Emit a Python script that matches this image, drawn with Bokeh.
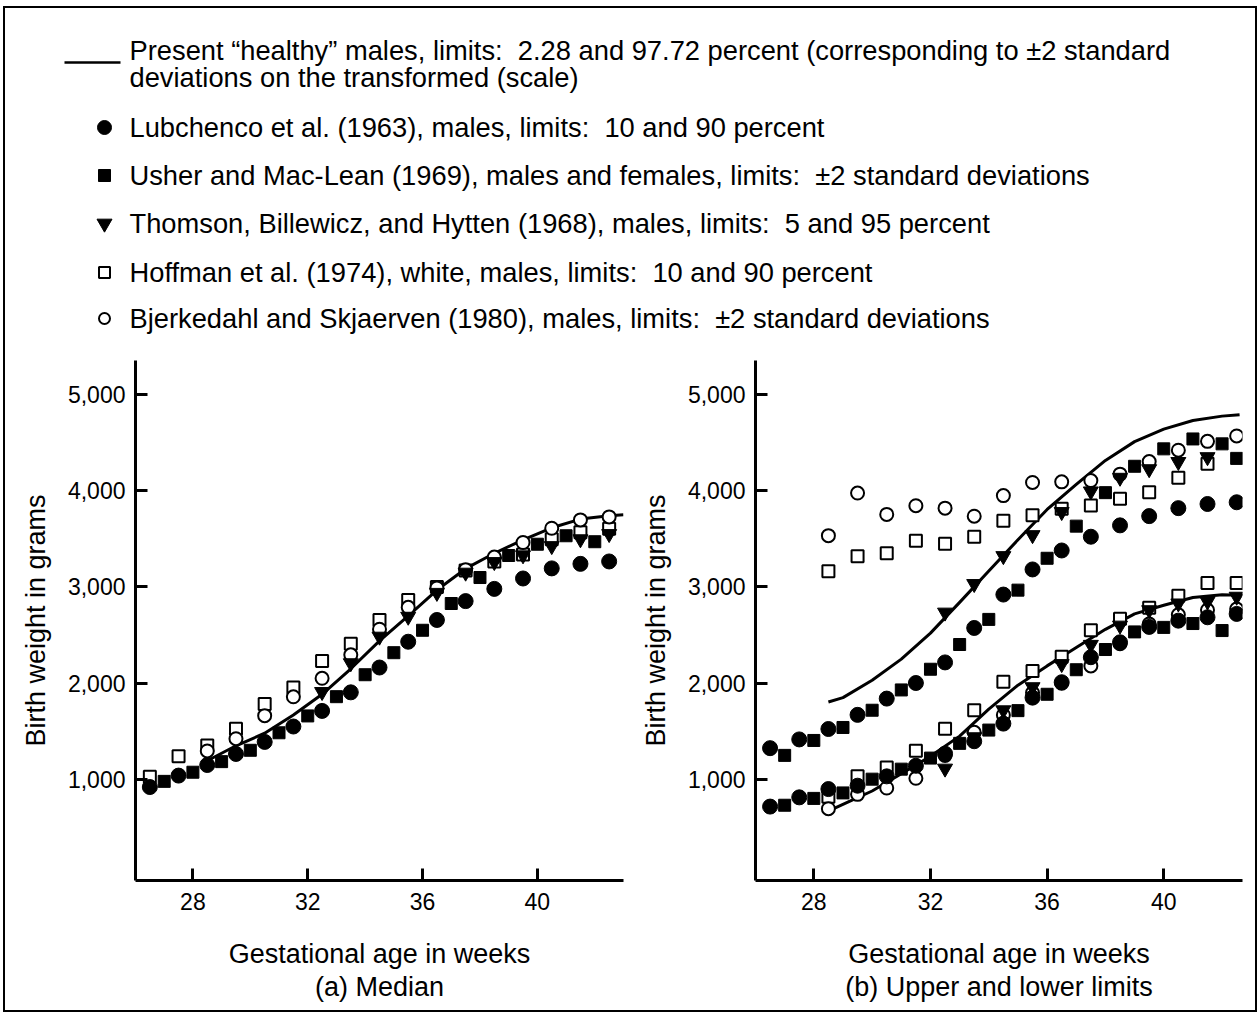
from bokeh.plotting import figure
from bokeh.layouts import column, row
from bokeh.models import Range1d, FixedTicker, NumeralTickFormatter, Title
from bokeh.embed import file_html
from bokeh.resources import INLINE
from bokeh.core.properties import value

FONT = "Liberation Sans"

# ---------------- data: panel (a) medians ----------------
weeks_half = [26.5, 27.5, 28.5, 29.5, 30.5, 31.5, 32.5, 33.5, 34.5, 35.5,
              36.5, 37.5, 38.5, 39.5, 40.5, 41.5, 42.5]
weeks_int = [27, 28, 29, 30, 31, 32, 33, 34, 35, 36, 37, 38, 39, 40, 41, 42]
weeks_b = [28.5, 29.5, 30.5, 31.5, 32.5, 33.5, 34.5, 35.5, 36.5, 37.5,
           38.5, 39.5, 40.5, 41.5, 42.5]
weeks_t = [32.5, 33.5, 34.5, 35.5, 36.5, 37.5, 38.5, 39.5, 40.5, 41.5, 42.5]

lub_med = [921, 1040, 1150, 1265, 1390, 1550, 1712, 1905, 2163, 2431, 2657,
           2853, 2980, 3088, 3193, 3240, 3265]
ush_med = [980, 1075, 1185, 1303, 1485, 1660, 1860, 2088, 2317, 2550, 2828,
           3098, 3327, 3444, 3532, 3470]
hof_med = [1027, 1240, 1354, 1526, 1784, 1955, 2230, 2409, 2657, 2864, 3000,
           3170, 3265, 3336, 3497, 3569, 3605]
bje_med = [1296, 1423, 1663, 1859, 2051, 2295, 2561, 2788, 2990, 3180, 3310,
           3462, 3610, 3697, 3728]
tho_med = [1910, 2209, 2485, 2692, 2940, 3150, 3260, 3330, 3426, 3497, 3551]

healthy_med_weeks = [28.6, 29.5, 30.5, 31.5, 32.5, 33.5, 34.5, 35.5, 36.5,
                     37.5, 38.5, 39.5, 40.5, 41.5, 42.5, 43.0]
healthy_med = [1210, 1350, 1480, 1670, 1885, 2150, 2440, 2700, 2968, 3190,
               3350, 3490, 3615, 3705, 3740, 3750]

# ---------------- data: panel (b) upper / lower limits ----------------
lub_up = [1325, 1416, 1524, 1671, 1840, 2002, 2216, 2574, 2921, 3182, 3379,
          3522, 3640, 3736, 3819, 3862, 3880]
lub_lo = [718, 814, 900, 935, 1032, 1142, 1268, 1397, 1580, 1850, 2010, 2270,
          2425, 2585, 2650, 2685, 2720]
ush_up_weeks = [27, 28, 29, 30, 31, 32, 33, 34, 35, 36, 37, 38, 39, 40, 41, 42, 42.5]
ush_up = [1250, 1405, 1540, 1719, 1930, 2145, 2402, 2663, 2967, 3298, 3632,
          3980, 4254, 4435, 4538, 4487, 4336]
ush_lo = [732, 803, 860, 1003, 1107, 1222, 1375, 1513, 1715, 1885, 2140, 2350,
          2533, 2580, 2620, 2547]
hof_up_weeks = [28.5, 29.5, 30.5, 31.5, 32.5, 33.5, 34.5, 35.5, 36.5, 37.5,
                38.5, 39.5, 40.5, 41.5]
hof_up = [3164, 3318, 3350, 3479, 3450, 3522, 3689, 3744, 3812, 3846, 3917,
          3983, 4136, 4280]
hof_lo = [821, 1032, 1125, 1298, 1528, 1720, 2016, 2127, 2274, 2550, 2669,
          2785, 2909, 3040, 3040]
bje_up = [3533, 3976, 3754, 3844, 3819, 3735, 3949, 4086, 4092, 4105, 4172,
          4303, 4421, 4513, 4569]
bje_lo = [696, 845, 911, 1012, 1250, 1490, 1670, 1900, 2000, 2180, 2410, 2615,
          2710, 2760, 2770]
tho_up_weeks = [32.5, 33.5, 34.5, 35.5, 36.5, 37.5, 38.5, 39.5, 40.5, 41.5]
tho_up = [2735, 3032, 3322, 3540, 3780, 3994, 4136, 4225, 4300, 4350]
tho_lo = [1114, 1440, 1720, 1960, 2200, 2400, 2600, 2760, 2830, 2850, 2900]

up_curve_weeks = [28.5, 29, 30, 31, 32, 33, 34, 35, 36, 37, 38, 39, 40, 41, 42, 42.6]
up_curve = [1805, 1850, 2030, 2250, 2520, 2840, 3165, 3490, 3805, 4065, 4315,
            4510, 4640, 4730, 4775, 4790]
lo_curve_weeks = [28.7, 29.5, 30, 31, 32, 33, 34, 35, 36, 37, 38, 39, 40, 41, 42, 42.6]
lo_curve = [700, 810, 880, 1060, 1240, 1450, 1730, 1980, 2180, 2370, 2560,
            2720, 2810, 2890, 2920, 2915]

x_ticks = [28, 32, 36, 40]
y_ticks = [1000, 2000, 3000, 4000, 5000]

NB = "\u00a0"
legend_labels = [
    "Present \u201chealthy\u201d males, limits:" + NB + " 2.28 and 97.72 percent (corresponding to \u00b12 standard",
    "deviations on the transformed (scale)",
    "Lubchenco et al. (1963), males, limits:" + NB + " 10 and 90 percent",
    "Usher and Mac-Lean (1969), males and females, limits:" + NB + " \u00b12 standard deviations",
    "Thomson, Billewicz, and Hytten (1968), males, limits:" + NB + " 5 and 95 percent",
    "Hoffman et al. (1974), white, males, limits:" + NB + " 10 and 90 percent",
    "Bjerkedahl and Skjaerven (1980), males, limits:" + NB + " \u00b12 standard deviations",
]

# ---------------- legend block ----------------
LW, LH = 1250, 342
leg = figure(width=LW, height=LH, x_range=Range1d(0, LW), y_range=Range1d(LH, 0),
             toolbar_location=None, output_backend="svg", min_border=0)
leg.axis.visible = False
leg.grid.visible = False
leg.outline_line_color = None
text_y = [42, 69, 119, 167, 215, 264, 310]
leg.text(x=[124] * len(legend_labels), y=text_y, text=legend_labels,
         text_font=value(FONT), text_font_size="27.3px", text_baseline="middle",
         text_color="black")
leg.line(x=[59, 115], y=[54, 54], line_width=2.5, color="black")
leg.scatter(x=[99], y=[119], marker="circle", size=14, color="black")
leg.scatter(x=[99], y=[167], marker="square", size=12, color="black")
leg.scatter(x=[99], y=[215], marker="inverted_triangle", size=15, color="black")
leg.scatter(x=[99], y=[264], marker="square", size=11, fill_color="white",
            line_color="black", line_width=2)
leg.scatter(x=[99], y=[310], marker="circle", size=11, fill_color="white",
            line_color="black", line_width=2)


def make_panel(width, left, frame_w, x_end, subtitle):
    p = figure(width=width, height=660, x_range=Range1d(26, x_end),
               y_range=Range1d(-50, 5353), toolbar_location=None,
               output_backend="svg", min_border_left=left,
               min_border_right=width - left - frame_w,
               min_border_top=10, min_border_bottom=130)
    p.grid.visible = False
    p.outline_line_color = None
    p.xaxis.ticker = FixedTicker(ticks=x_ticks)
    p.yaxis.ticker = FixedTicker(ticks=y_ticks)
    p.yaxis.formatter = NumeralTickFormatter(format="0,0")
    for ax in (p.xaxis[0], p.yaxis[0]):
        ax.axis_line_width = 3
        ax.major_tick_line_width = 3
        ax.major_tick_in = 12
        ax.major_tick_out = 0
        ax.minor_tick_line_color = None
        ax.major_label_text_font = FONT
        ax.major_label_text_font_size = "23px"
        ax.major_label_text_color = "black"
        ax.axis_label_text_font = FONT
        ax.axis_label_text_font_size = "27px"
        ax.axis_label_text_font_style = "normal"
        ax.axis_label_text_color = "black"
    p.xaxis.axis_label = "Gestational age in weeks"
    p.yaxis.axis_label = "Birth weight in grams"
    p.xaxis.major_label_standoff = 12
    p.xaxis.axis_label_standoff = 26
    p.yaxis.major_label_standoff = 10
    p.yaxis.axis_label_standoff = 14
    t = Title(text=subtitle, align="center", text_font=FONT,
              text_font_size="27px", text_font_style="normal",
              text_color="black", standoff=-4, offset=0)
    p.add_layout(t, "below")
    return p


def open_sq(p, x, y):
    p.scatter(x, y, marker="square", size=12, fill_color="white",
              line_color="black", line_width=2)


def open_ci(p, x, y):
    p.scatter(x, y, marker="circle", size=13, fill_color="white",
              line_color="black", line_width=2)


def fill_sq(p, x, y):
    p.scatter(x, y, marker="square", size=12, color="black")


def fill_ci(p, x, y):
    p.scatter(x, y, marker="circle", size=15, color="black")


def tri(p, x, y):
    p.scatter(x, y, marker="inverted_triangle", size=15, color="black")


# panel (a)
pa = make_panel(623, 130, 488, 43.0, "(a) Median")
pa.line(healthy_med_weeks, healthy_med, line_width=3, color="black", line_join="round")
open_sq(pa, weeks_half, hof_med)
open_ci(pa, weeks_b, bje_med)
fill_sq(pa, weeks_int, ush_med)
fill_ci(pa, weeks_half, lub_med)
tri(pa, weeks_t, tho_med)

# panel (b)
pb = make_panel(627, 127, 487, 42.7, "(b) Upper and lower limits")
pb.line(up_curve_weeks, up_curve, line_width=3, color="black", line_join="round")
pb.line(lo_curve_weeks, lo_curve, line_width=3, color="black", line_join="round")
open_sq(pb, hof_up_weeks, hof_up)
open_sq(pb, weeks_b, hof_lo)
open_ci(pb, weeks_b, bje_up)
open_ci(pb, weeks_b, bje_lo)
fill_sq(pb, ush_up_weeks, ush_up)
fill_sq(pb, weeks_int, ush_lo)
fill_ci(pb, weeks_half, lub_up)
fill_ci(pb, weeks_half, lub_lo)
tri(pb, tho_up_weeks, tho_up)
tri(pb, weeks_t, tho_lo)

layout = column(leg, row(pa, pb),
                styles={"border": "2px solid black", "margin-left": "3px",
                        "margin-top": "6px"})

open("out.html", "w").write(file_html(layout, INLINE))
